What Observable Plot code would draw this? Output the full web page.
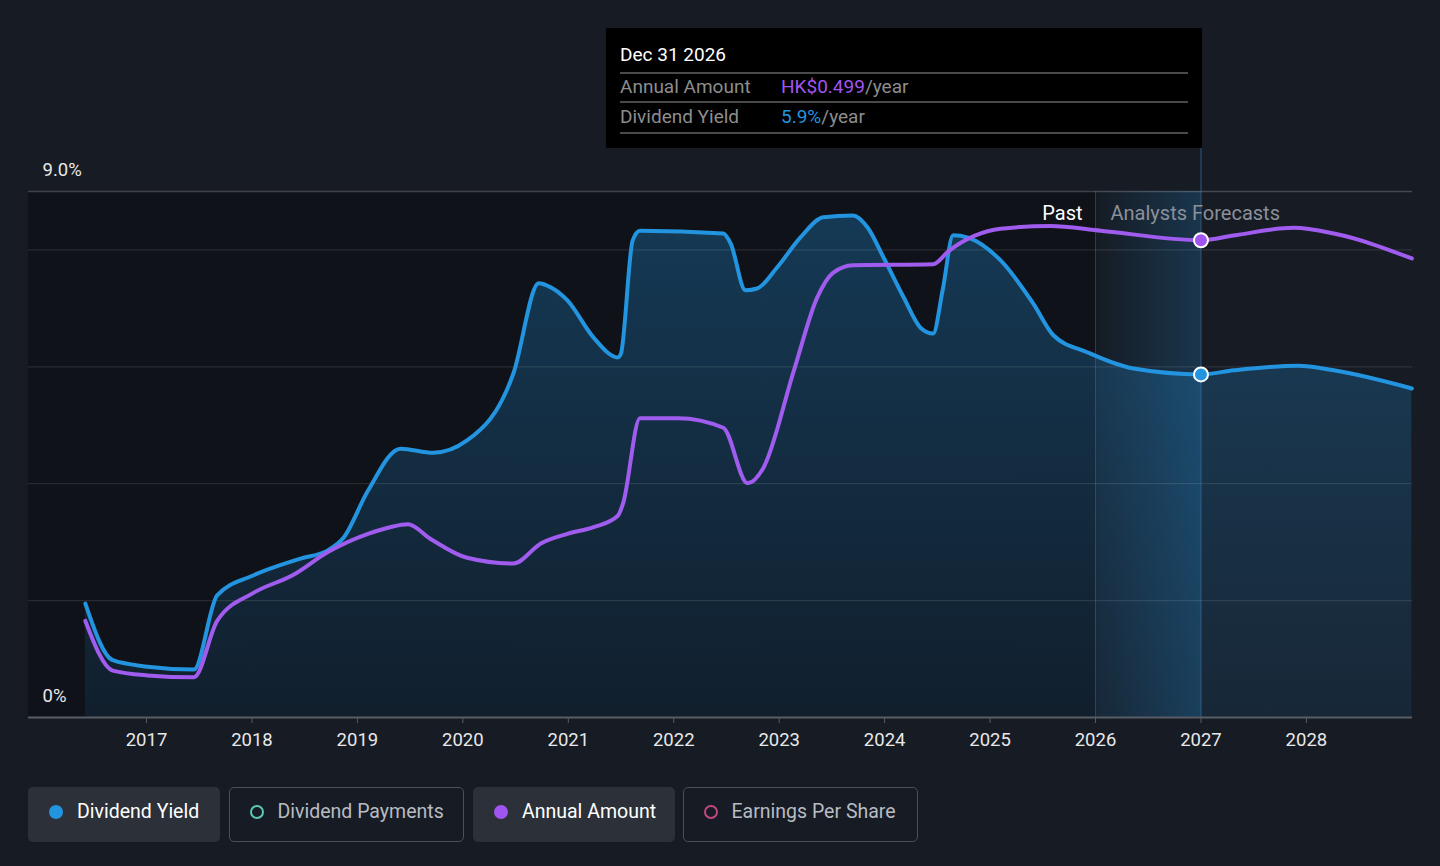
<!DOCTYPE html>
<html><head><meta charset="utf-8">
<script src="https://cdn.jsdelivr.net/npm/d3@7"></script>
<script src="https://cdn.jsdelivr.net/npm/@observablehq/plot@0.6"></script>
<style>
body{margin:0;background:#161b24;font-family:Roboto,"Noto Sans",sans-serif;}
#wrap{position:relative;width:1440px;height:866px;overflow:hidden;background:#161b24;}
#chart{position:absolute;left:0;top:0;}
.tip{position:absolute;left:606px;top:28px;width:596px;height:120px;background:#000;}
.tip .t{position:absolute;left:14px;top:15px;color:#fff;font-size:19px;}
.tip .hr{position:absolute;left:14px;width:568px;height:1.5px;background:#4a4a4a;}
.tip .lab{position:absolute;left:14px;color:#8d8d8d;font-size:19px;}
.tip .val{position:absolute;left:175px;color:#8d8d8d;font-size:19px;}
.leg{position:absolute;top:787px;height:55px;box-sizing:border-box;border-radius:5px;font-size:19.5px;}
.leg.on{background:#2b3039;color:#fff;}
.leg.off{border:1.5px solid #4b5058;color:#b8bcc2;}
.leg .dot{position:absolute;left:21px;top:18px;width:14px;height:14px;border-radius:50%;box-sizing:border-box;}
.leg .txt{position:absolute;left:49px;top:13px;}
</style></head>
<body><div id="wrap"><div id="chart"></div>
<div class="tip">
  <div class="t">Dec 31 2026</div>
  <div class="hr" style="top:44px"></div>
  <div class="lab" style="top:47px">Annual Amount</div>
  <div class="val" style="top:47px"><span style="color:#a155ef">HK$0.499</span>/year</div>
  <div class="hr" style="top:73px"></div>
  <div class="lab" style="top:77px">Dividend Yield</div>
  <div class="val" style="top:77px"><span style="color:#2394df">5.9%</span>/year</div>
  <div class="hr" style="top:104px"></div>
</div>
<div id="legend"></div>
</div>
<script>
// Dividend yield (%) over time (decimal years)
const yieldYears = [2016.42,2016.68,2017.01,2017.45,2017.67,2018.01,2018.46,2018.72,2018.87,2019.10,2019.41,2019.72,2020.04,2020.48,2020.72,2020.80,2020.99,2021.24,2021.47,2021.50,2021.61,2021.68,2022.47,2022.54,2022.68,2022.79,2022.98,2023.20,2023.42,2023.70,2023.84,2023.99,2024.18,2024.34,2024.46,2024.55,2024.65,2024.79,2025.10,2025.41,2025.60,2025.92,2026.36,2027.00,2027.31,2027.92,2028.26,2029.00];
const yieldValues = [1.95,0.98,0.87,0.82,2.09,2.43,2.72,2.86,3.08,3.88,4.60,4.53,4.74,5.89,7.43,7.39,7.14,6.50,6.16,6.23,8.16,8.33,8.28,8.11,7.31,7.34,7.70,8.21,8.56,8.59,8.38,7.87,7.19,6.67,6.57,7.31,8.25,8.21,7.82,7.08,6.54,6.25,5.97,5.87,5.94,6.02,5.94,5.63];
// Annual dividend amount (HK$/year)
const amountYears = [2016.42,2016.68,2017.01,2017.45,2017.67,2018.01,2018.39,2018.72,2019.10,2019.31,2019.48,2019.69,2020.04,2020.48,2020.74,2020.99,2021.24,2021.47,2021.52,2021.68,2022.04,2022.47,2022.70,2022.85,2023.14,2023.36,2023.51,2023.70,2024.46,2024.61,2025.10,2025.57,2026.05,2027.00,2027.31,2027.88,2028.26,2029.00];
const amountValues = [0.101,0.049,0.044,0.042,0.101,0.130,0.149,0.173,0.192,0.199,0.202,0.187,0.167,0.161,0.182,0.192,0.199,0.211,0.224,0.313,0.313,0.303,0.245,0.261,0.363,0.439,0.465,0.473,0.474,0.488,0.511,0.514,0.509,0.499,0.504,0.512,0.506,0.480];
const xTicks = [2017,2018,2019,2020,2021,2022,2023,2024,2025,2026,2027,2028];
const gridValues = [2,4,6,8];
const yLabels = [{y:9,label:"9.0%"},{y:0,label:"0%"}];
const pastEnd = 2026, forecastEnd = 2027;
const xDomain = [2015.881, 2029.006];
const yMax = 9, amountMax = 0.55; // secondary axis: HK$0.55 at top
const legendItems = [
  {label:"Dividend Yield", color:"#2394df", on:true, left:28, width:192},
  {label:"Dividend Payments", color:"#5cc9b5", on:false, left:229, width:235},
  {label:"Annual Amount", color:"#a155ef", on:true, left:473, width:202},
  {label:"Earnings Per Share", color:"#c0487f", on:false, left:683, width:235}
];

const yieldData = yieldYears.map((t,i)=>({t, v:yieldValues[i]}));
const amountData = amountYears.map((t,i)=>({t, v:amountValues[i]*yMax/amountMax}));
const sel = d=>d.t===forecastEnd;

const defs = () => {
  const g = d3.create("svg:defs");
  g.html(`<linearGradient id="areaGrad" x1="0" y1="0" x2="0" y2="1">
    <stop offset="0" stop-color="#2394df" stop-opacity="0.30"/>
    <stop offset="1" stop-color="#2394df" stop-opacity="0.10"/></linearGradient>
    <linearGradient id="bandGrad" x1="0" y1="0" x2="1" y2="0">
    <stop offset="0" stop-color="#2394df" stop-opacity="0"/>
    <stop offset="1" stop-color="#2394df" stop-opacity="0.22"/></linearGradient>`);
  return g.node();
};

const chart = Plot.plot({
  width:1440, height:770,
  marginLeft:28, marginRight:28, marginTop:191, marginBottom:53,
  style:{background:"transparent", color:"#e6e6e6", fontFamily:"Roboto, sans-serif", overflow:"visible"},
  x:{domain:xDomain, axis:null},
  y:{domain:[0,yMax], axis:null},
  marks:[
    defs,
    Plot.rect([{x1:xDomain[0], x2:pastEnd, y1:0, y2:yMax}], {x1:"x1", x2:"x2", y1:"y1", y2:"y2", fill:"#07090d", fillOpacity:0.5}),
    Plot.areaY(yieldData, {x:"t", y:"v", fill:"url(#areaGrad)", curve:"monotone-x"}),
    Plot.rect([{x1:pastEnd, x2:forecastEnd, y1:0, y2:yMax}], {x1:"x1", x2:"x2", y1:"y1", y2:"y2", fill:"url(#bandGrad)"}),
    Plot.ruleY(gridValues, {stroke:"#ffffff", strokeOpacity:0.1, strokeWidth:1.2}),
    Plot.ruleY([yMax], {stroke:"#ffffff", strokeOpacity:0.2, strokeWidth:1.5}),
    Plot.ruleX([pastEnd], {y1:0, y2:yMax, stroke:"#3f86c0", strokeOpacity:0.35}),
    Plot.ruleX([forecastEnd], {y1:0, y2:9.74, stroke:"#3f86c0", strokeOpacity:0.6}),
    Plot.ruleY([0], {stroke:"#585d65", strokeWidth:2}),
    Plot.axisX(xTicks, {tickFormat:d=>String(d), tickSize:6, tickPadding:9, stroke:"#585d65", fill:"#e8e8e8", fontSize:18.5, label:null}),
    Plot.text(yLabels, {y:"y", text:"label", frameAnchor:"left", dx:14, dy:-21, textAnchor:"start", fill:"#e8e8e8", fontSize:18.5}),
    Plot.text([{t:pastEnd, label:"Past"}], {x:"t", text:"label", frameAnchor:"top", dy:14, dx:-13, textAnchor:"end", fill:"#ffffff", fontSize:20}),
    Plot.text([{t:pastEnd, label:"Analysts Forecasts"}], {x:"t", text:"label", frameAnchor:"top", dy:14, dx:15, textAnchor:"start", fill:"#8b9099", fontSize:20}),
    Plot.line(yieldData, {x:"t", y:"v", stroke:"#2394df", strokeWidth:4, curve:"monotone-x"}),
    Plot.line(amountData, {x:"t", y:"v", stroke:"#a05cee", strokeWidth:4, curve:"monotone-x"}),
    Plot.dot(yieldData.filter(sel), {x:"t", y:"v", r:7, fill:"#2394df", stroke:"#fff", strokeWidth:2}),
    Plot.dot(amountData.filter(sel), {x:"t", y:"v", r:7, fill:"#a155ef", stroke:"#fff", strokeWidth:2})
  ]
});
document.getElementById("chart").appendChild(chart);

const leg = document.getElementById("legend");
for (const it of legendItems) {
  const b = document.createElement("div");
  b.className = "leg " + (it.on ? "on" : "off");
  b.style.left = it.left + "px"; b.style.width = it.width + "px";
  const d = document.createElement("div"); d.className = "dot";
  if (it.on) d.style.background = it.color; else d.style.border = "2px solid " + it.color;
  if (!it.on) { d.style.left = "19.5px"; d.style.top = "16.5px"; }
  const t = document.createElement("div"); t.className = "txt"; t.textContent = it.label;
  if (!it.on) { t.style.left = "47.5px"; t.style.top = "11.5px"; }
  b.appendChild(d); b.appendChild(t); leg.appendChild(b);
}
</script></body></html>
